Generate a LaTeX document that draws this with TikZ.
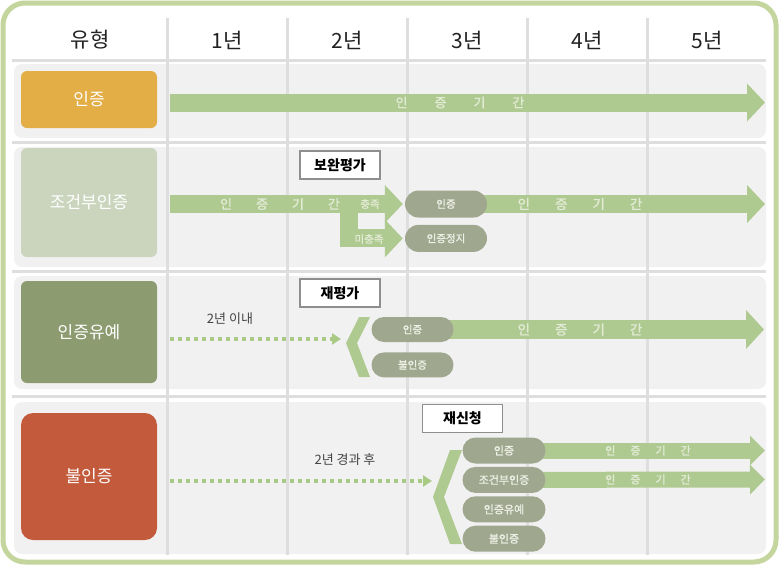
\documentclass[tikz,border=0pt]{standalone}
\usepackage{fontspec}
\setmainfont{Noto Sans CJK KR}
\newfontfamily\krsemi[FakeBold=1.2]{Noto Sans CJK KR}
\usepackage{xcolor}
\usetikzlibrary{positioning,arrows.meta}

\definecolor{frameGreen}{HTML}{C4D69E}
\definecolor{rowGray}{HTML}{F2F1F2}
\definecolor{gridGray}{HTML}{DEDEDE}
\definecolor{headText}{HTML}{222222}
\definecolor{certOrange}{HTML}{E3AE45}
\definecolor{condGreen}{HTML}{CBD5BE}
\definecolor{deferOlive}{HTML}{8D9B70}
\definecolor{failRed}{HTML}{C45A3C}
\definecolor{barGreen}{HTML}{AFCA90}
\definecolor{barText}{HTML}{E2EBD6}
\definecolor{dotGreen}{HTML}{A9CA85}
\definecolor{pillGray}{HTML}{9FA78F}
\definecolor{pillText}{HTML}{EEF0E6}
\definecolor{boxLine}{HTML}{8E8E8E}
\definecolor{noteGray}{HTML}{444444}

\pgfdeclarelayer{back}
\pgfdeclarelayer{mid}
\pgfsetlayers{back,mid,main}

\newcommand{\fsz}[1]{\fontsize{#1}{#1}\selectfont}
\newcommand{\gigan}[1]{인\hspace{#1}증\hspace{#1}기\hspace{#1}간}

\begin{document}
\begin{tikzpicture}[x=1pt, y=-1pt]
    \tikzset{
      head/.style = {text=headText, font=\fsz{21}},
      typebox/.style = {rectangle, rounded corners=6pt, minimum width=136pt, text=white, font=\fsz{17}, inner sep=0pt},
      evalbox/.style = {rectangle, draw=boxLine, line width=1.2pt, fill=white, minimum width=80pt, minimum height=28pt, inner sep=0pt, font=\fsz{14}\bfseries},
      pill/.style = {rectangle, rounded corners=12.5pt, fill=pillGray, text=pillText, minimum width=82pt, minimum height=25pt, inner sep=0pt, font=\krsemi\fsz{10.5}},
      pillsm/.style = {pill, rounded corners=13pt, minimum width=83pt, minimum height=26pt, font=\krsemi\fsz{11}},
      bararrow/.style = {draw=barGreen, line width=18pt, line join=miter, -{Triangle[length=18pt,width=37pt]}},
      dotarrow/.style = {draw=dotGreen, line width=4pt, dash pattern=on 4pt off 4pt, -{Triangle[length=9pt,width=11pt]}},
      gridline/.style = {draw=gridGray, line width=3pt},
      rowbg/.style = {fill=rowGray, rounded corners=8pt},
      bartext/.style = {text=barText, inner sep=0pt},
      note/.style = {text=noteGray, font=\fsz{13}}
    }
    \useasboundingbox (0,0) rectangle (779,565);

    \begin{pgfonlayer}{back}
      \fill[white] (0,0) rectangle (779,565);
      \draw[draw=frameGreen, line width=5pt, rounded corners=22pt] (3,3) rectangle (776,562);
      \fill[rowbg] (14,64) rectangle (766,138);
      \fill[rowbg] (14,147) rectangle (766,267);
      \fill[rowbg] (14,276) rectangle (766,389);
      \fill[rowbg] (14,402) rectangle (766,554);
      \foreach \gy in {60,142,271,396}
        \draw[gridline] (12,\gy) -- (766,\gy);
      \foreach \gx in {167,287,...,647}
        \draw[gridline] (\gx,18) -- (\gx,555);
    \end{pgfonlayer}

    \node[head] (hType) at (90,40) {유형};
    \foreach \yr in {1,...,5}
      \node[head] (hYr\yr) at (107+120*\yr,40) {\yr{}년};

    \node[typebox, fill=certOrange, minimum height=57pt] (tCert) at (89,99.5) {인증};
    \node[typebox, fill=condGreen, minimum height=109pt] (tCond) at (89,202.5) {조건부인증};
    \node[typebox, fill=deferOlive, minimum height=102pt] (tDefer) at (89,332) {인증유예};
    \node[typebox, fill=failRed, minimum height=127pt, rounded corners=12pt] (tFail) at (89,476.5) {불인증};

    % row 1
    \coordinate (r1s) at (170,102.5);
    \coordinate (r1e) at (765,102.5);
    \begin{pgfonlayer}{mid}
      \draw[bararrow] (r1s) -- (r1e);
    \end{pgfonlayer}
    \node[bartext, font=\krsemi\fsz{13}] (r1txt) at (460,102.5) {\gigan{27pt}};

    % row 2
    \node[evalbox] (eval2) at (340,165) {보완평가};
    \node[pill, minimum height=27pt, rounded corners=13.5pt] (p2a) at (446,204) {인증};
    \node[pill, minimum height=27pt, rounded corners=13.5pt, below=7pt of p2a] (p2b) {인증정지};
    \coordinate (r2s) at (170,204);
    \coordinate (r2fork) at (349,204);
    \coordinate (r2e) at (765,204);
    \begin{pgfonlayer}{mid}
      \draw[bararrow] (r2s) -- ([xshift=-2pt]p2a.west);
      \draw[bararrow] (r2fork) |- ([xshift=-2pt]p2b.west);
      \draw[bararrow] (p2a.center) -- (r2e);
    \end{pgfonlayer}
    \node[bartext, font=\krsemi\fsz{13}] (r2txt) at (280,204) {\gigan{24pt}};
    \node[bartext, font=\krsemi\fsz{10.5}] (r2ok) at (370,204) {충족};
    \node[bartext, font=\krsemi\fsz{10.5}] (r2no) at (369,239) {미충족};
    \node[bartext, font=\krsemi\fsz{13.5}] (r2txt2) at (580,204) {\gigan{25pt}};

    % row 3
    \node[evalbox] (eval3) at (340,293) {재평가};
    \node[note] (n3) at (230,319) {2년 이내};
    \node[pill] (p3a) at (412.5,329.5) {인증};
    \node[pill, below=10pt of p3a] (p3b) {불인증};
    \fill[barGreen] (370,317) -- (359,317) -- (346,343) -- (359,377) -- (370,377) -- (357,343) -- cycle;
    \coordinate (d3s) at (170,339);
    \coordinate (d3e) at (341,339);
    \coordinate (r3e) at (764,329.5);
    \draw[dotarrow] (d3s) -- (d3e);
    \begin{pgfonlayer}{mid}
      \draw[bararrow, line width=19pt, -{Triangle[length=18pt,width=38pt]}] (p3a.center) -- (r3e);
    \end{pgfonlayer}
    \node[bartext, font=\krsemi\fsz{13.5}] (r3txt) at (580,329.5) {\gigan{25pt}};

    % row 4
    \node[evalbox] (eval4) at (462.5,418.5) {재신청};
    \node[note] (n4) at (345,460) {2년 경과 후};
    \node[pillsm] (p4a) at (504,450.5) {인증};
    \node[pillsm, below=3pt of p4a] (p4b) {조건부인증};
    \node[pillsm, below=3pt of p4b] (p4c) {인증유예};
    \node[pillsm, below=3pt of p4c] (p4d) {불인증};
    \fill[barGreen] (462,450) -- (450,450) -- (433,497) -- (450,544) -- (462,544) -- (444,497) -- cycle;
    \coordinate (d4s) at (170,481);
    \coordinate (d4e) at (432,481);
    \coordinate (r4ae) at (765,450.5);
    \coordinate (r4be) at (765,479.5);
    \draw[dotarrow] (d4s) -- (d4e);
    \begin{pgfonlayer}{mid}
      \draw[bararrow, line width=16pt, -{Triangle[length=15pt,width=29pt]}] (p4a.center) -- (r4ae);
      \draw[bararrow, line width=16pt, -{Triangle[length=15pt,width=29pt]}] (p4b.center) -- (r4be);
    \end{pgfonlayer}
    \node[bartext, font=\krsemi\fsz{11}] (r4atxt) at (648,450.5) {\gigan{15pt}};
    \node[bartext, font=\krsemi\fsz{11}] (r4btxt) at (648,479.5) {\gigan{15pt}};
\end{tikzpicture}
\end{document}
